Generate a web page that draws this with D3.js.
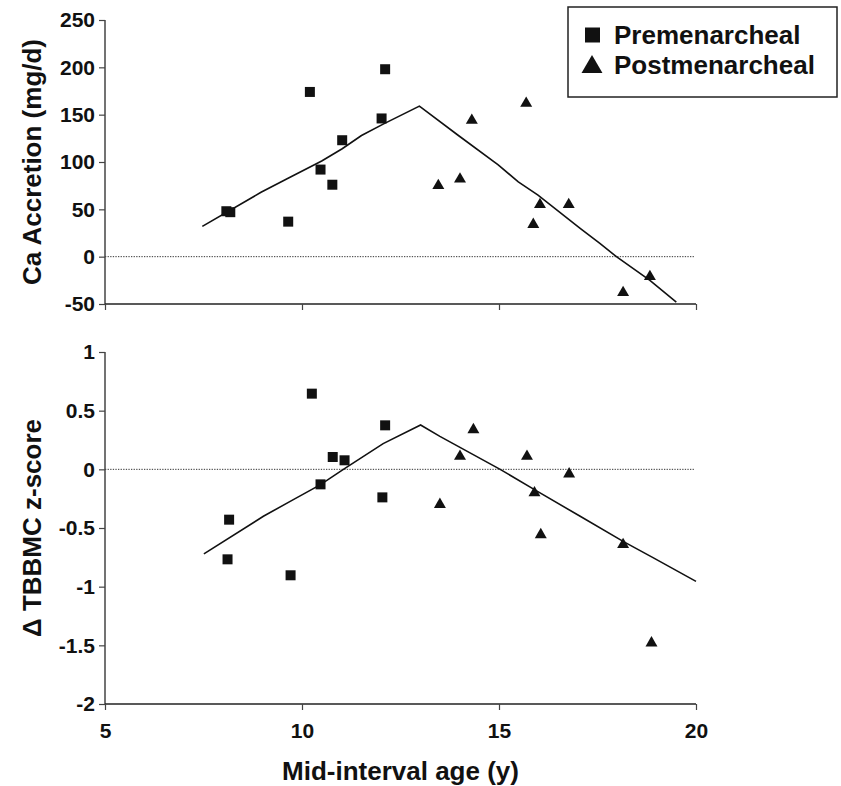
<!DOCTYPE html>
<html>
<head>
<meta charset="utf-8">
<script src="https://cdn.jsdelivr.net/npm/d3@7"></script>
<style>
  body { margin: 0; background: #fff; }
  svg { display: block; font-family: "Liberation Sans", Arial, sans-serif; }
  svg text { font-family: "Liberation Sans", Arial, sans-serif !important; font-weight: 700 !important; }
</style>
</head>
<body>
<svg id="chart" width="841" height="786"></svg>
<script>
// ---- Data ----
const xTicks = [5, 10, 15, 20];
const caTicks = [-50, 0, 50, 100, 150, 200, 250];
const zTicks = [-2, -1.5, -1, -0.5, 0, 0.5, 1];

// Top panel: Ca accretion (mg/d)
const caPreAge = [8.08, 8.18, 9.65, 10.2, 10.47, 10.77, 11.02, 12.02, 12.11];
const caPreVal = [48, 47, 37, 174, 92, 76, 123, 146, 198];
const caPostAge = [13.46, 14.01, 14.31, 15.69, 15.87, 16.04, 16.77, 18.15, 18.83];
const caPostVal = [75, 82, 144, 162, 34, 55, 55, -38, -21];
const caFitAge = [7.47, 8.96, 9.61, 10.5, 11.02, 11.51, 12.06, 12.98, 13.97, 14.98, 15.49, 15.99, 17.06, 17.56, 17.98, 18.83, 19.5];
const caFitVal = [32, 68, 82, 101, 114, 128, 140, 159, 128, 97, 79, 65, 30, 14, 0, -25, -48];

// Bottom panel: Δ TBBMC z-score
const zPreAge = [10.25, 12.11, 10.78, 11.08, 10.47, 12.04, 8.15, 8.11, 9.71];
const zPreVal = [0.645, 0.375, 0.105, 0.077, -0.128, -0.239, -0.429, -0.767, -0.903];
const zPostAge = [14.35, 14.01, 15.71, 16.78, 15.9, 13.5, 16.06, 18.15, 18.87];
const zPostVal = [0.338, 0.111, 0.111, -0.04, -0.2, -0.3, -0.557, -0.642, -1.48];
const zFitAge = [7.51, 9.02, 9.7, 10.47, 11.05, 12.06, 13.01, 13.5, 15.03, 15.9, 17.06, 18.15, 18.92, 20.0];
const zFitVal = [-0.721, -0.4, -0.273, -0.13, 0.0, 0.219, 0.378, 0.281, 0.0, -0.173, -0.4, -0.614, -0.755, -0.955];

const legendLabels = ["Premenarcheal", "Postmenarcheal"];

// ---- Layout ----
const svg = d3.select("#chart");
const x = d3.scaleLinear().domain([5, 20]).range([105, 696]);
const yTop = d3.scaleLinear().domain([-50, 250]).range([304, 20]);
const yBot = d3.scaleLinear().domain([-2, 1]).range([704, 352]);

const axisColor = "#444";
const sq = d3.symbol().type(d3.symbolSquare).size(100);
const tri = d3.symbol().type(d3.symbolTriangle).size(62);
const fmtHyphen = d => String(d).replace("\u2212", "-");

function panel(y, yTickVals, preA, preV, postA, postV, fitA, fitV, showXLabels) {
  const g = svg.append("g");
  // zero dotted line
  g.append("line")
    .attr("x1", x(5)).attr("x2", x(20) - 2)
    .attr("y1", y(0)).attr("y2", y(0))
    .attr("stroke", "#333").attr("stroke-width", 1)
    .attr("stroke-dasharray", "1.3,1.3");

  // y axis
  const ya = g.append("g").attr("transform", `translate(${x(5)},0)`)
    .call(d3.axisLeft(y).tickValues(yTickVals).tickSize(6).tickPadding(4).tickFormat(fmtHyphen));
  ya.attr("font-size", null).attr("font-family", null);
  ya.select(".domain").attr("stroke", axisColor).attr("stroke-width", 1.5).attr("d", `M0,${y.range()[1]}V${y.range()[0]}`);
  ya.selectAll(".tick line").attr("stroke", axisColor).attr("stroke-width", 1.2);
  ya.selectAll(".tick text").style("font-size", "21px").attr("fill", "#111");

  // x axis
  const xa = g.append("g").attr("transform", `translate(0,${y.range()[0]})`)
    .call(d3.axisBottom(x).tickValues(xTicks).tickSize(6).tickPadding(13).tickFormat(showXLabels ? fmtHyphen : () => ""));
  xa.attr("font-size", null).attr("font-family", null);
  xa.select(".domain").attr("stroke", "#222").attr("stroke-width", 1.5).attr("d", `M${x(5)},0H${x(20)}`);
  xa.selectAll(".tick line").attr("stroke", axisColor).attr("stroke-width", 1.2);
  xa.selectAll(".tick text").style("font-size", "21px").attr("fill", "#111");

  // fit line
  const fit = fitA.map((a, i) => [a, fitV[i]]);
  g.append("path").datum(fit)
    .attr("fill", "none").attr("stroke", "#111").attr("stroke-width", 1.6)
    .attr("d", d3.line().x(d => x(d[0])).y(d => y(d[1])));

  // premenarcheal squares
  g.selectAll(".pre").data(preA.map((a, i) => [a, preV[i]])).join("path")
    .attr("class", "pre")
    .attr("transform", d => `translate(${x(d[0])},${y(d[1])})`)
    .attr("d", sq).attr("fill", "#111");

  // postmenarcheal triangles
  g.selectAll(".post").data(postA.map((a, i) => [a, postV[i]])).join("path")
    .attr("class", "post")
    .attr("transform", d => `translate(${x(d[0])},${y(d[1])})`)
    .attr("d", tri).attr("fill", "#111");
}

panel(yTop, caTicks, caPreAge, caPreVal, caPostAge, caPostVal, caFitAge, caFitVal, false);
panel(yBot, zTicks, zPreAge, zPreVal, zPostAge, zPostVal, zFitAge, zFitVal, true);

// Axis titles
svg.append("text")
  .attr("transform", `translate(41,${(yTop.range()[0] + yTop.range()[1]) / 2}) rotate(-90)`)
  .attr("text-anchor", "middle")
  .style("font-size", "26px").attr("fill", "#111")
  .text("Ca Accretion (mg/d)");

svg.append("text")
  .attr("transform", `translate(41,${(yBot.range()[0] + yBot.range()[1]) / 2}) rotate(-90)`)
  .attr("text-anchor", "middle")
  .style("font-size", "26px").attr("fill", "#111")
  .text("\u0394 TBBMC z-score");

svg.append("text")
  .attr("x", (x(5) + x(20)) / 2).attr("y", 780)
  .attr("text-anchor", "middle")
  .style("font-size", "26px").attr("fill", "#111")
  .text("Mid-interval age (y)");

// Legend
const lg = svg.append("g");
lg.append("rect").attr("x", 568).attr("y", 7).attr("width", 269).attr("height", 90)
  .attr("fill", "#fff").attr("stroke", "#222").attr("stroke-width", 1.5);
lg.append("path").attr("transform", "translate(592.5,35)")
  .attr("d", d3.symbol().type(d3.symbolSquare).size(225)).attr("fill", "#111");
lg.append("path").attr("transform", "translate(592,67)")
  .attr("d", d3.symbol().type(d3.symbolTriangle).size(190)).attr("fill", "#111");
lg.selectAll(".lt").data(legendLabels).join("text")
  .attr("class", "lt")
  .attr("x", 614).attr("y", (d, i) => 44 + i * 30)
  .style("font-size", "26px").attr("fill", "#111")
  .text(d => d);
</script>
</body>
</html>
